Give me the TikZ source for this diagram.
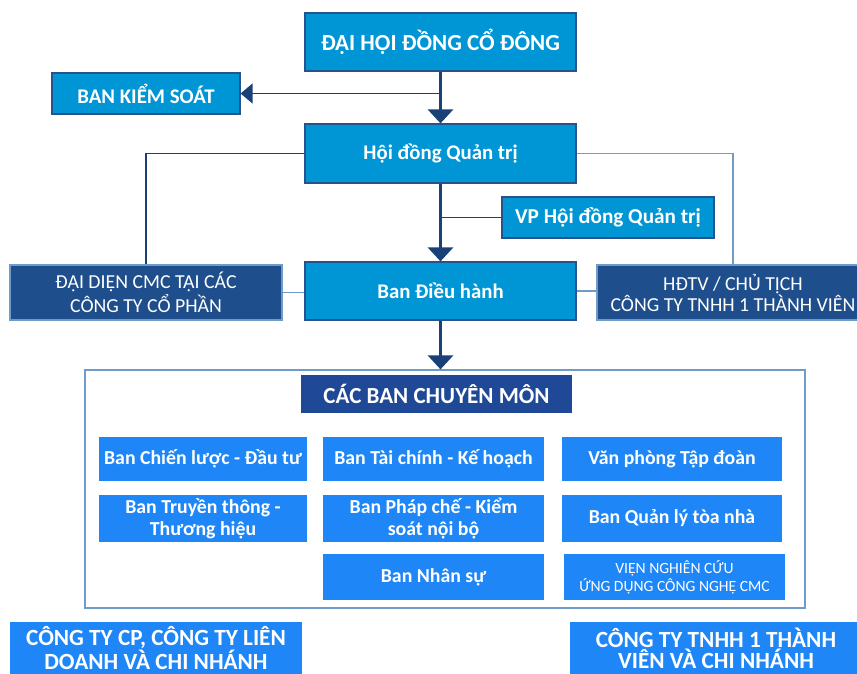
\documentclass[tikz,border=0pt]{standalone}
\usepackage{fontspec}
\setmainfont{Carlito}
\usetikzlibrary{arrows.meta,calc}
\definecolor{xanh}{RGB}{0,150,214}
\definecolor{dam}{RGB}{31,78,140}
\definecolor{chuyenmon}{RGB}{31,72,150}
\definecolor{sang}{RGB}{30,134,247}
\definecolor{vien}{RGB}{40,82,140}
\definecolor{duong}{RGB}{110,155,200}
\definecolor{muiten}{RGB}{26,64,120}
\tikzset{
  hopxanh/.style={draw=vien, line width=0.6pt, fill=xanh, text=white, align=center, inner sep=0pt, font=\bfseries\fontsize{10.4}{12}\selectfont},
  hopdam/.style={draw=duong, line width=0.6pt, fill=dam, text=white, align=center, inner sep=0pt, font=\fontsize{9.9}{10.5}\selectfont},
  hopban/.style={fill=sang, text=white, align=center, inner sep=0pt, minimum height=22pt, font=\bfseries\fontsize{9.9}{11}\selectfont},
  hopduoi/.style={fill=sang, text=white, align=center, inner sep=0pt, minimum width=146pt, minimum height=26pt, font=\bfseries\fontsize{11.6}{10.6}\selectfont},
  muitenlon/.style={muiten, line width=1.5pt, -{Triangle[width=12.5pt,length=7pt]}},
  muitennho/.style={muiten, line width=0.7pt, -{Triangle[width=10pt,length=6pt]}},
  noi/.style={draw=duong, line width=0.8pt}
}
\begin{document}
\begin{tikzpicture}[x=0.5pt,y=-0.5pt]
\useasboundingbox (0,0) rectangle (857,674);
\clip (0,0) rectangle (857,674);

\node[hopxanh, minimum width=135.5pt, minimum height=29pt, font=\bfseries\fontsize{11.5}{12}\selectfont] (dhdcd) at (440.5,42) {ĐẠI HỘI ĐỒNG CỔ ĐÔNG};
\node[hopxanh, minimum width=94pt, minimum height=20.5pt] (bks) at (146,93.5) {BAN KIỂM SOÁT};
\node[hopxanh, minimum width=135.5pt, minimum height=29.5pt] (hdqt) at (440.5,153.5) {Hội đồng Quản trị};
\node[hopxanh, minimum width=106pt, minimum height=20.5pt, font=\bfseries\fontsize{10.6}{12}\selectfont] (vp) at (608,217.5) {VP Hội đồng Quản trị};
\node[hopxanh, minimum width=135.5pt, minimum height=29pt] (bdh) at (440.5,291) {Ban Điều hành};
\node[hopdam, minimum width=136pt, minimum height=27.5pt] (daidien) at (146,292.5) {ĐẠI DIỆN CMC TẠI CÁC\\CÔNG TY CỔ PHẦN};
\node[hopdam, minimum width=136pt, minimum height=27.5pt] (hdtv) at (733,292.5) {HĐTV / CHỦ TỊCH\\CÔNG TY TNHH 1 THÀNH VIÊN};

\node[draw=duong, line width=0.6pt, minimum width=360pt, minimum height=119pt, inner sep=0pt] (khung) at (445,489) {};
\node[fill=chuyenmon, text=white, minimum width=135.5pt, minimum height=19pt, inner sep=0pt, font=\bfseries\fontsize{11.5}{12}\selectfont] (cacban) at (436.5,394) {CÁC BAN CHUYÊN MÔN};

\node[hopban, minimum width=104pt] (chienluoc) at (203,459) {Ban Chiến lược - Đầu tư};
\node[hopban, minimum width=110.5pt] (taichinh) at (433.5,459) {Ban Tài chính - Kế hoạch};
\node[hopban, minimum width=110pt] (vanphong) at (672,459) {Văn phòng Tập đoàn};
\node[hopban, minimum width=104pt, minimum height=23.5pt] (truyenthong) at (203,518.5) {Ban Truyền thông -\\Thương hiệu};
\node[hopban, minimum width=110.5pt, minimum height=23.5pt] (phapche) at (433.5,518.5) {Ban Pháp chế - Kiểm\\soát nội bộ};
\node[hopban, minimum width=110pt, minimum height=23.5pt] (toanha) at (672,518.5) {Ban Quản lý tòa nhà};
\node[hopban, minimum width=110.5pt, minimum height=23pt] (nhansu) at (433.5,577) {Ban Nhân sự};
\node[hopban, minimum width=110.5pt, minimum height=23pt, font=\fontsize{7.8}{9}\selectfont] (vien) at (674.5,577) {VIỆN NGHIÊN CỨU\\ỨNG DỤNG CÔNG NGHỆ CMC};

\node[hopduoi] (ctcp) at (156,648) {CÔNG TY CP, CÔNG TY LIÊN\\DOANH VÀ CHI NHÁNH};
\node[hopduoi] (cttnhh) at (716,648) {CÔNG TY TNHH 1 THÀNH\\VIÊN VÀ CHI NHÁNH};

\draw[muitenlon] (dhdcd) -- (hdqt);
\draw[muitennho] (dhdcd.south |- bks.east) -- (bks.east);
\draw[muitenlon] (hdqt) -- (bdh);
\draw[muiten, line width=0.7pt] (hdqt.south |- vp.west) -- (vp.west);
\draw[muitenlon] (bdh) -- (bdh |- khung.north);

\draw[muiten, line width=0.8pt] (hdqt.west) -| (daidien.north);
\draw[noi] (hdqt.east) -| (hdtv.north);
\draw[noi] (daidien.east) -- (daidien.east -| bdh.west);
\draw[noi] (bdh.east) -- (bdh.east -| hdtv.west);

\draw[noi] ($(daidien.south west)+(36,0)$) -- ($(daidien.south west)+(36,0)$ |- ctcp.north);
\draw[noi] ($(khung.south west)+(79,0)$) -- ($(khung.south west)+(79,0)$ |- ctcp.north);
\draw[noi] ($(khung.south east)+(-81,0)$) -- ($(khung.south east)+(-81,0)$ |- cttnhh.north);
\draw[noi] ($(hdtv.south west)+(238,0)$) -- ($(hdtv.south west)+(238,0)$ |- cttnhh.north);
\end{tikzpicture}
\end{document}
